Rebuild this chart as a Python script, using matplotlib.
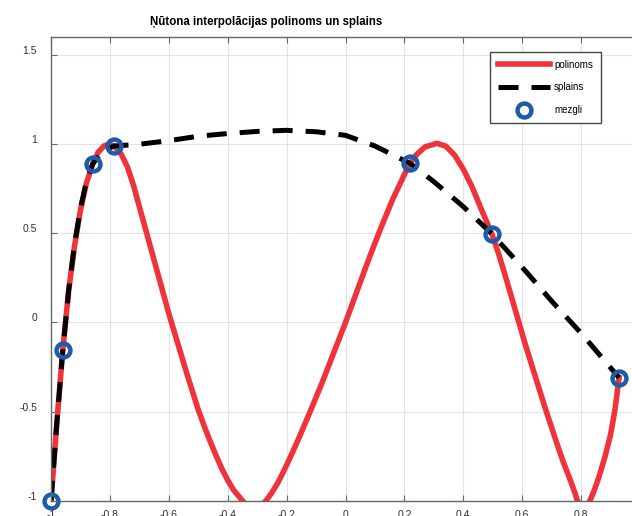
import numpy as np
import matplotlib
matplotlib.use('Agg')
from matplotlib import pyplot as plt
from matplotlib.transforms import ScaledTranslation

plt.rcParams['font.family'] = ['Liberation Sans', 'DejaVu Sans']

# interpolation nodes
nodes_x = [-1.0, -0.96, -0.858, -0.785, 0.219, 0.497, 0.929]
nodes_y = [-1.0, -0.154, 0.891, 0.99, 0.893, 0.497, -0.31]

# Newton polynomial (goes below -1, clipped by the axes)
poly_x = [-1.0, -0.98, -0.96, -0.94, -0.92, -0.90, -0.88, -0.858, -0.84, -0.82,
          -0.805, -0.785, -0.76, -0.74, -0.72, -0.70, -0.68, -0.66, -0.64, -0.62,
          -0.60, -0.58, -0.56, -0.54, -0.52, -0.50, -0.48, -0.46, -0.44, -0.42,
          -0.40, -0.38, -0.36, -0.35, -0.33, -0.31, -0.29, -0.27, -0.25, -0.23,
          -0.21, -0.19, -0.16, -0.12, -0.08, -0.04, 0.0, 0.04, 0.08, 0.12,
          0.16, 0.20, 0.219, 0.24, 0.27, 0.31, 0.34, 0.37, 0.40, 0.43,
          0.46, 0.497, 0.52, 0.55, 0.58, 0.61, 0.64, 0.66, 0.68, 0.70,
          0.72, 0.74, 0.76, 0.78, 0.787, 0.80, 0.808, 0.818, 0.83, 0.845,
          0.86, 0.88, 0.90, 0.915, 0.929]
poly_y = [-1.0, -0.56, -0.154, 0.18, 0.43, 0.63, 0.78, 0.891, 0.955, 0.99,
          1.0, 0.99, 0.94, 0.87, 0.77, 0.65, 0.53, 0.41, 0.29, 0.17,
          0.05, -0.06, -0.17, -0.28, -0.385, -0.49, -0.58, -0.665, -0.745, -0.82,
          -0.885, -0.94, -0.98, -1.0, -1.03, -1.04, -1.03, -1.0, -0.955, -0.90,
          -0.835, -0.765, -0.655, -0.50, -0.34, -0.17, 0.0, 0.18, 0.36, 0.53,
          0.69, 0.83, 0.893, 0.94, 0.985, 1.005, 0.99, 0.94, 0.86, 0.76,
          0.64, 0.497, 0.385, 0.22, 0.05, -0.12, -0.28, -0.385, -0.49, -0.59,
          -0.69, -0.785, -0.87, -0.96, -1.0, -1.03, -1.035, -1.03, -1.0, -0.94,
          -0.87, -0.76, -0.63, -0.49, -0.31]

# spline
spl_x = [-1.0, -0.98, -0.96, -0.94, -0.92, -0.90, -0.88, -0.858, -0.83, -0.80,
         -0.785, -0.70, -0.60, -0.50, -0.40, -0.30, -0.20, -0.10, 0.0, 0.10,
         0.219, 0.30, 0.40, 0.497, 0.60, 0.70, 0.80, 0.929]
spl_y = [-1.0, -0.56, -0.154, 0.18, 0.44, 0.64, 0.79, 0.891, 0.95, 0.98,
         0.99, 1.0, 1.02, 1.045, 1.06, 1.072, 1.078, 1.07, 1.05, 0.99,
         0.893, 0.79, 0.65, 0.497, 0.31, 0.12, -0.06, -0.31]

x_ticks = [-1, -0.8, -0.6, -0.4, -0.2, 0, 0.2, 0.4, 0.6, 0.8]
x_labels = ['-1', '-0.8', '-0.6', '-0.4', '-0.2', '0', '0.2', '0.4', '0.6', '0.8']
y_ticks = [-1, -0.5, 0, 0.5, 1, 1.5]
y_labels = ['-1', '-0.5', '0', '0.5', '1', '1.5']

fig = plt.figure(figsize=(6.32, 5.16), dpi=100)
ax = fig.add_axes([51 / 632, 15.3 / 516, 589 / 632, 463.4 / 516])

ax.plot(poly_x, poly_y, color='#f0323a', lw=4, label='polinoms')
ax.plot(spl_x, spl_y, color='black', lw=3.6, ls='--', dashes=(4.0, 2.6), label='splains')
ax.plot(nodes_x, nodes_y, 'o', ms=10, mfc='none', mec='#1c5ca8', mew=3.2,
        clip_on=False, label='mezgli')

ax.set_xlim(-1, 1)
ax.set_ylim(-1, 1.6)
ax.set_xticks(x_ticks)
ax.set_xticklabels(x_labels)
ax.set_yticks(y_ticks)
ax.set_yticklabels(y_labels)
ax.grid(True, color='#e3e3e3', lw=0.8)
ax.set_axisbelow(True)

spine_col = '#5f6a6a'
for s in ax.spines.values():
    s.set_color(spine_col)
    s.set_linewidth(1.0)
ax.tick_params(direction='in', length=4, width=0.8, color=spine_col,
               labelsize=7.5, labelcolor='#303030', top=True, right=True)
ax.tick_params(axis='x', pad=7)
ax.tick_params(axis='y', pad=10)
for lab in ax.get_yticklabels():
    lab.set_transform(lab.get_transform() + ScaledTranslation(0, 0.05, fig.dpi_scale_trans))

fig.text(266 / 632, 1 - 22 / 516, 'Ņūtona interpolācijas polinoms un splains',
         ha='center', va='center', fontsize=8.3, fontweight='bold')

leg = ax.legend(loc='upper left', bbox_to_anchor=(490 / 632, 1 - 52 / 516),
                bbox_transform=fig.transFigure, fontsize=7, handlelength=5.4,
                labelspacing=1.3, borderpad=0.8, handletextpad=0.4,
                fancybox=False, framealpha=1, borderaxespad=0)
leg.get_frame().set_edgecolor('#404848')
leg.get_frame().set_linewidth(1.0)

fig.savefig('out.png', dpi=100)
